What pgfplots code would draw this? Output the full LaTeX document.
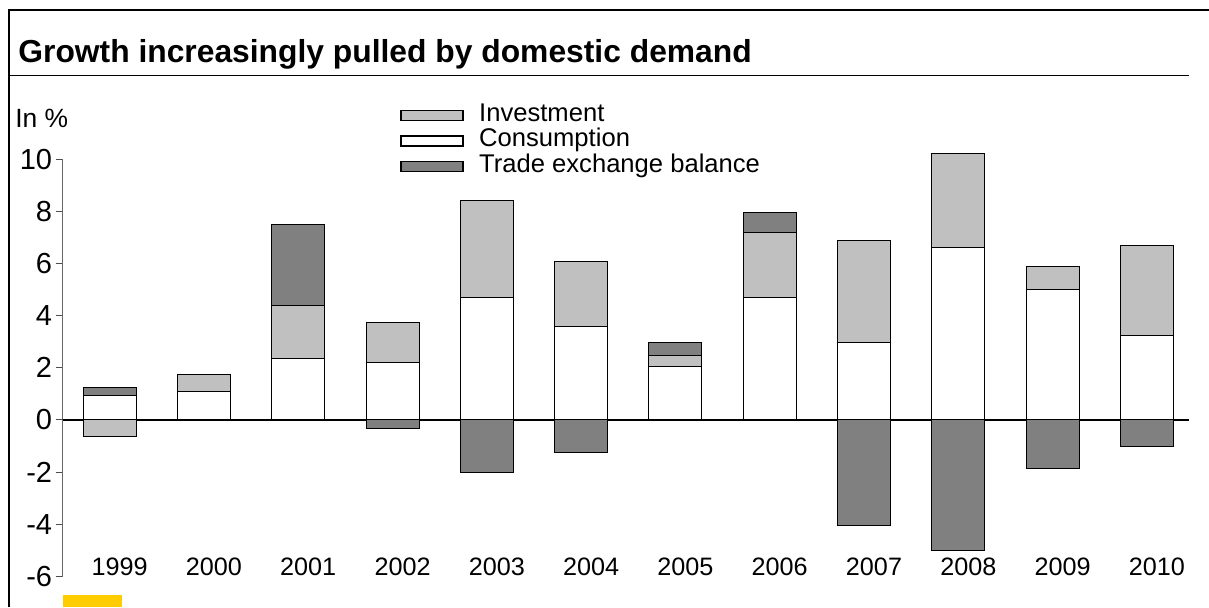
\documentclass[border=0pt]{standalone}
\usepackage{fontspec}
\setmainfont{Liberation Sans}
\usepackage{pgfplots}
\pgfplotsset{compat=1.18}
\usepackage{pgfplotstable}

\definecolor{invest}{HTML}{C0C0C0}
\definecolor{trade}{HTML}{808080}
\definecolor{eyyellow}{HTML}{FFCC00}

% growth contributions, in %
\pgfplotstableread{
idx year cons invpos tradepos invneg tradeneg
0  1999 0.93 0.00 0.32 -0.62  0.00
1  2000 1.10 0.63 0.00  0.00  0.00
2  2001 2.35 2.02 3.13  0.00  0.00
3  2002 2.19 1.56 0.00  0.00 -0.31
4  2003 4.69 3.74 0.00  0.00 -2.01
5  2004 3.60 2.49 0.00  0.00 -1.25
6  2005 2.04 0.45 0.48  0.00  0.00
7  2006 4.69 2.50 0.78  0.00  0.00
8  2007 2.98 3.90 0.00  0.00 -4.04
9  2008 6.63 3.57 0.00  0.00 -5.00
10 2009 5.01 0.89 0.00  0.00 -1.86
11 2010 3.24 3.43 0.00  0.00 -1.00
}\growth

\pgfplotsset{
  growth/.style={
    scale only axis,
    width=563.4pt, height=208.7pt,
    at={(31.25pt,15.25pt)}, anchor=south west,
    xmin=-0.5, xmax=11.45,
    ymin=-6, ymax=10,
    clip=false,
    ybar stacked,
    bar width=26.5pt,
  },
  legimg/.style={legend image code/.code={%
      \draw[##1, line width=0.9pt] (0pt,-2.5pt) rectangle (31pt,2.5pt);}},
}

\begin{document}
\begin{tikzpicture}
\path[use as bounding box] (0,0) rectangle (604.5pt,303.5pt);
\draw[line width=1pt] (4.5pt,0) -- (4.5pt,298.5pt) -- (604.5pt,298.5pt);
\node[anchor=base west, inner sep=0pt, font=\fontsize{15.9}{18}\selectfont\bfseries]
  at (9pt,272.5pt) {Growth increasingly pulled by domestic demand};
\draw[line width=0.8pt] (5pt,265.75pt) -- (594.5pt,265.75pt);
\node[anchor=base west, inner sep=0pt, font=\fontsize{13.2}{15}\selectfont]
  at (7.5pt,240pt) {In \%};
\fill[eyyellow] (31.35pt,0pt) rectangle (60.85pt,6pt);

\begin{axis}[growth,
  axis lines*=left,
  x axis line style={draw=none},
  y axis line style={black!60, line width=0.6pt},
  tick align=outside,
  major x tick style={draw=none},
  major y tick style={black!70, line width=0.5pt},
  major tick length=3.5pt,
  ytick={-6,-4,...,10},
  xtick={0,...,11},
  xticklabels={1999,2000,2001,2002,2003,2004,2005,2006,2007,2008,2009,2010},
  xticklabel style={anchor=base, xshift=5pt, yshift=4pt, font=\fontsize{12.6}{15}\selectfont},
  yticklabel style={inner sep=1.5pt, font=\fontsize{14.5}{17}\selectfont},
  /pgf/number format/assume math mode=true,
  extra y ticks={0},
  extra y tick labels={},
  extra y tick style={grid=major, major grid style={black, line width=0.6pt}},
  legend style={at={(0.2995,1.1344)}, anchor=north west, draw=none, fill=none,
    inner sep=0pt, row sep=0.75pt, font=\fontsize{12.8}{15}\selectfont,
    nodes={inner sep=0pt, text height=9pt, text depth=3pt},
    /tikz/every odd column/.append style={column sep=7.5pt}},
  legend cell align=left,
  every axis plot/.append style={draw=black, line width=0.5pt},
]
\addplot[fill=white, forget plot] table[x=idx, y=cons] {\growth};
\addplot[fill=invest, forget plot] table[x=idx, y=invpos] {\growth};
\addplot[fill=trade, forget plot] table[x=idx, y=tradepos] {\growth};
\addlegendimage{legimg, fill=invest, draw=black}
\addlegendentry{Investment}
\addlegendimage{legimg, fill=white, draw=black}
\addlegendentry{Consumption}
\addlegendimage{legimg, fill=trade, draw=black}
\addlegendentry{Trade exchange balance}
\end{axis}

\begin{axis}[growth, hide axis]
\addplot[fill=invest, draw=black, line width=0.5pt] table[x=idx, y=invneg] {\growth};
\addplot[fill=trade, draw=black, line width=0.5pt] table[x=idx, y=tradeneg] {\growth};
\end{axis}
\end{tikzpicture}
\end{document}
